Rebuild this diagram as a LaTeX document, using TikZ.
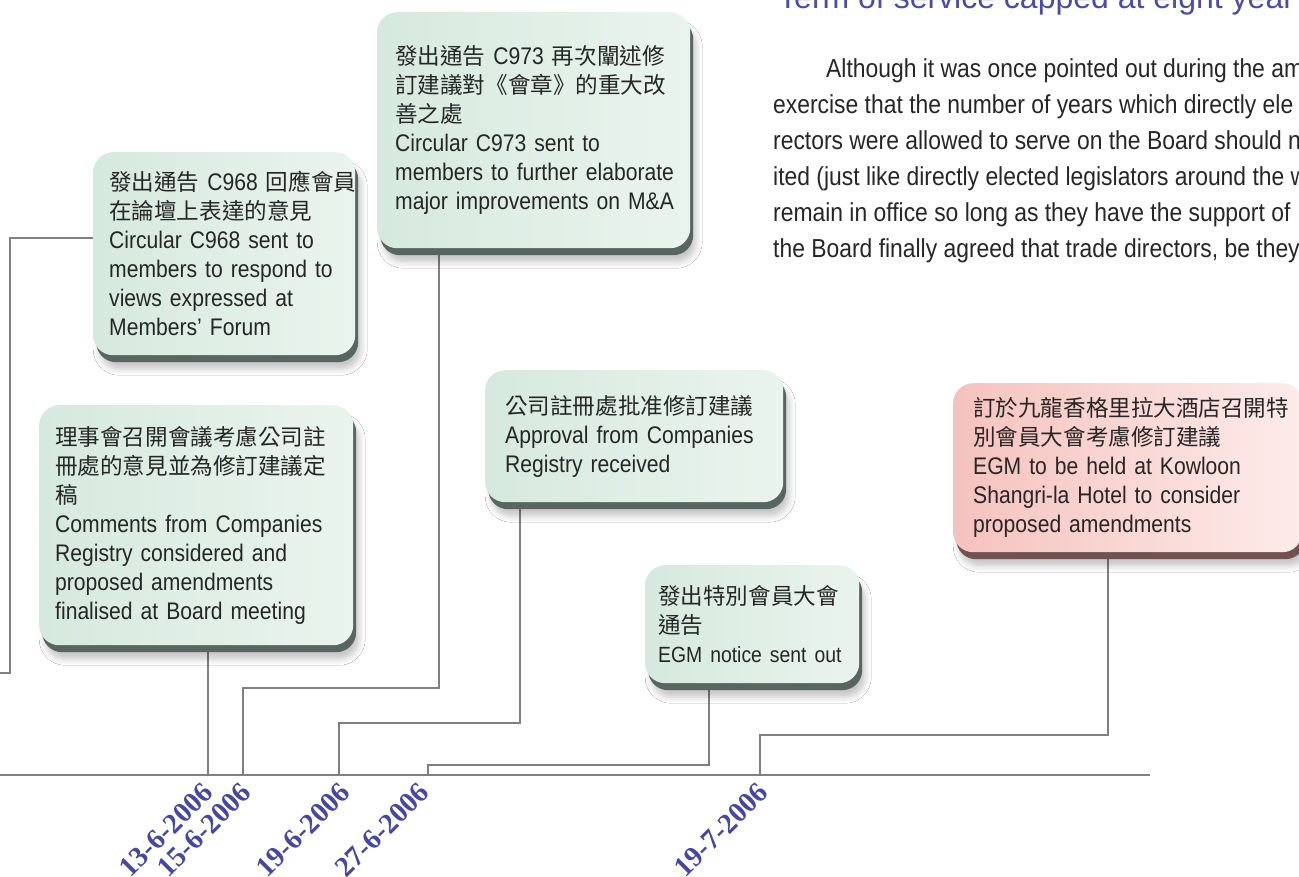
\documentclass[tikz,border=0pt]{standalone}
\usepackage{fontspec}
\setmainfont{Liberation Sans}[FakeStretch=0.88]
\newfontfamily\cjk{Noto Sans CJK TC}[Scale=0.94]
\newfontfamily\datefont{Liberation Serif}
\newfontfamily\titlefont{Liberation Sans}
\usetikzlibrary{shadows,shadows.blur,backgrounds}
\newcommand{\zh}[1]{{\cjk #1}}
\newcommand{\Lx}[1]{\mbox{#1}}
\definecolor{mintL}{RGB}{214,233,223}
\definecolor{mintR}{RGB}{234,244,238}
\definecolor{mintEdge}{RGB}{88,102,98}
\definecolor{pinkL}{RGB}{245,194,190}
\definecolor{pinkR}{RGB}{253,236,234}
\definecolor{pinkEdge}{RGB}{112,82,80}
\definecolor{lineGray}{RGB}{128,128,128}
\definecolor{dateBlue}{RGB}{70,70,165}
\definecolor{titleBlue}{RGB}{75,75,170}
\begin{document}
\begin{tikzpicture}[x=1pt,y=-1pt,
  evbox/.style={anchor=north west, rounded corners=20pt, align=left,
    inner xsep=16pt, inner ysep=0pt, font=\fontsize{24}{29}\selectfont, text=black!85,
    blur shadow={shadow xshift=6pt, shadow yshift=-14pt, shadow blur radius=6pt, shadow opacity=22}},
  mintbox/.style={evbox, left color=mintL, right color=mintR,
    general shadow={fill=mintEdge, shadow xshift=3pt, shadow yshift=-7pt}},
  pinkbox/.style={evbox, left color=pinkL, right color=pinkR,
    general shadow={fill=pinkEdge, shadow xshift=3pt, shadow yshift=-7pt}},
  conn/.style={draw=lineGray, line width=2pt},
  datelab/.style={rotate=45, anchor=east, inner sep=0pt, text=dateBlue,
    font=\datefont\bfseries\fontsize{28.5}{28.5}\selectfont},
  bodytext/.style={anchor=north west, inner sep=0pt, align=left, text=black!85,
    font=\fontsize{26}{36}\selectfont}
]
\useasboundingbox (0,0) rectangle (1299,876);

% title and paragraph
\node[anchor=base west, inner sep=0pt, text=titleBlue, font=\titlefont\fontsize{32}{32}\selectfont]
  (title) at (778,8) {Term of service capped at eight year};
\node[bodytext] (para) at (773,58) {%
\Lx{\hspace*{53pt}Although it was once pointed out during the am}\\
\Lx{exercise that the number of years which directly ele}\\
\Lx{rectors were allowed to serve on the Board should no}\\
\Lx{ited (just like directly elected legislators around the w}\\
\Lx{remain in office so long as they have the support of}\\
\Lx{the Board finally agreed that trade directors, be they}};

% event boxes
\node[mintbox, text width=230pt, minimum height=203pt] (A) at (93,152) {%
\Lx{\zh{發出通告} C968 \zh{回應會員}}\\
\Lx{\zh{在論壇上表達的意見}}\\
\Lx{Circular C968 sent to}\\
\Lx{members to respond to}\\
\Lx{views expressed at}\\
\Lx{Members’ Forum}};

\node[mintbox, inner xsep=18pt, text width=277pt, minimum height=236pt] (B) at (377,12) {%
\Lx{\zh{發出通告} C973 \zh{再次闡述修}}\\
\Lx{\zh{訂建議對《會章》的重大改}}\\
\Lx{\zh{善之處}}\\
\Lx{Circular C973 sent to}\\
\Lx{members to further elaborate}\\
\Lx{major improvements on M\&A}};

\node[mintbox, text width=282pt, minimum height=240pt] (C) at (39,405) {%
\Lx{\zh{理事會召開會議考慮公司註}}\\
\Lx{\zh{冊處的意見並為修訂建議定}}\\
\Lx{\zh{稿}}\\
\Lx{Comments from Companies}\\
\Lx{Registry considered and}\\
\Lx{proposed amendments}\\
\Lx{finalised at Board meeting}};

\node[mintbox, inner xsep=20pt, text width=258pt, minimum height=132pt] (D) at (485,370) {%
\Lx{\zh{公司註冊處批准修訂建議}}\\
\Lx{Approval from Companies}\\
\Lx{Registry received}};

\node[mintbox, inner xsep=13pt, text width=188pt, minimum height=118pt] (E) at (645,565) {%
\Lx{\zh{發出特別會員大會}}\\
\Lx{\zh{通告}}\\
\Lx{\fontsize{22}{29}\selectfont EGM notice sent out}};

\node[pinkbox, inner xsep=20pt, text width=309pt, minimum height=169pt] (F) at (953,383) {%
\Lx{\zh{訂於九龍香格里拉大酒店召開特}}\\
\Lx{\zh{別會員大會考慮修訂建議}}\\
\Lx{EGM to be held at Kowloon}\\
\Lx{Shangri-la Hotel to consider}\\
\Lx{proposed amendments}};

% timeline coordinates
\coordinate (tl0) at (0,775);
\coordinate (tl1) at (1150,775);
\coordinate (t13) at (208,775);
\coordinate (t15) at (243,775);
\coordinate (t19) at (339,775);
\coordinate (t27) at (428,775);
\coordinate (t197) at (760,775);
\coordinate (k15) at (439,688);
\coordinate (k19) at (520,723);
\coordinate (k27) at (709,765);
\coordinate (k197) at (1108,735);
\coordinate (a1) at (10,238);
\coordinate (a2) at (10,673);
\coordinate (a3) at (0,673);

% date labels
\node[datelab] (d13) at ([shift={(0pt,-13pt)}]t13) {13-6-2006};
\node[datelab] (d15) at ([shift={(3pt,-13pt)}]t15) {15-6-2006};
\node[datelab] (d19) at ([shift={(6pt,-13pt)}]t19) {19-6-2006};
\node[datelab] (d27) at ([shift={(-4pt,-13pt)}]t27) {27-6-2006};
\node[datelab] (d197) at ([shift={(3pt,-13pt)}]t197) {19-7-2006};

\begin{pgfonlayer}{background}
\fill[white] (0,0) rectangle (1299,876);
\draw[conn] (tl0) -- (tl1);
\draw[conn] (A.west |- a1) -- (a1) -- (a2) -- (a3);
\draw[conn] (t13 |- C.south) -- (t13);
\draw[conn] (t15) |- (k15) -- (k15 |- B.south);
\draw[conn] (t19) |- (k19) -- (k19 |- D.south);
\draw[conn] (t27) |- (k27) -- (k27 |- E.south);
\draw[conn] (t197) |- (k197) -- (k197 |- F.south);
\end{pgfonlayer}
\end{tikzpicture}
\end{document}
